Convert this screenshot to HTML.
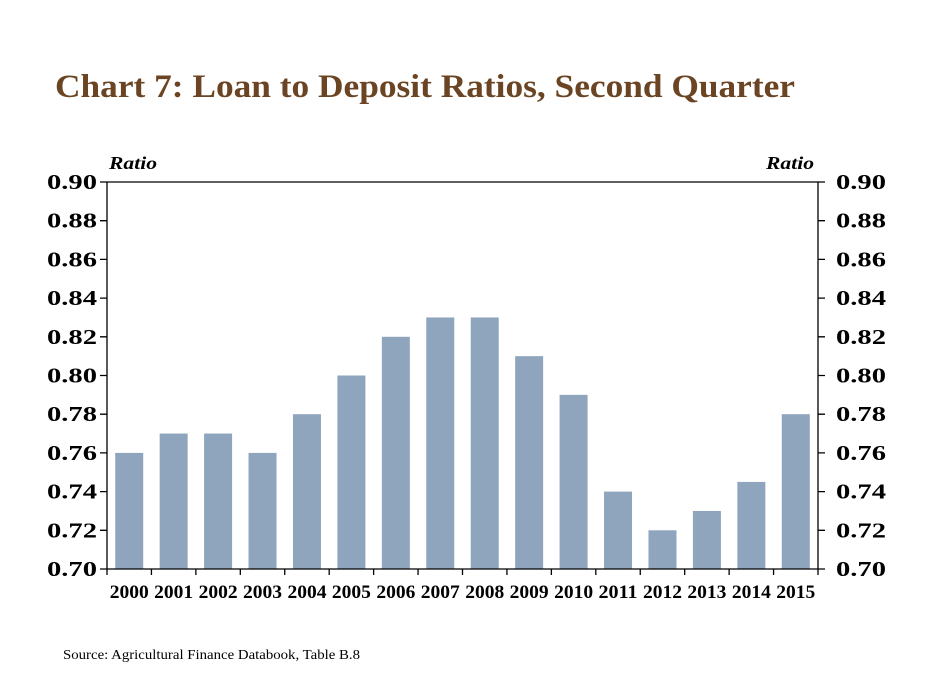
<!DOCTYPE html>
<html><head><meta charset="utf-8"><style>
body{margin:0;background:#fff;}
svg{display:block;font-family:"Liberation Serif",serif;}
</style></head><body>
<svg width="925" height="693" viewBox="0 0 925 693">
<text x="55" y="97" font-size="33" font-weight="bold" fill="#6B4523" textLength="740" lengthAdjust="spacingAndGlyphs">Chart 7: Loan to Deposit Ratios, Second Quarter</text>
<text x="109" y="169" font-size="18" font-weight="bold" font-style="italic" textLength="48" lengthAdjust="spacingAndGlyphs">Ratio</text>
<text x="766" y="169" font-size="18" font-weight="bold" font-style="italic" textLength="48" lengthAdjust="spacingAndGlyphs">Ratio</text>
<g id="bars" fill="#8FA5BE"></g>
<g stroke="#000" stroke-width="1.3" fill="none" id="ax"></g>
<g font-size="21" font-weight="bold" id="lbl"></g>
<text x="63" y="659" font-size="14" textLength="297" lengthAdjust="spacingAndGlyphs">Source: Agricultural Finance Databook, Table B.8</text>
<script>
var v=[0.76,0.77,0.77,0.76,0.78,0.80,0.82,0.83,0.83,0.81,0.79,0.74,0.72,0.73,0.745,0.78];
var L=107,R=818,T=182,B=569,sl=(R-L)/16,ns="http://www.w3.org/2000/svg";
function y(x){return B-(x-0.70)/0.2*(B-T);}
function el(p,t,a,tx){var e=document.createElementNS(ns,t);for(var k in a)e.setAttribute(k,a[k]);if(tx)e.textContent=tx;document.getElementById(p).appendChild(e);}
v.forEach(function(d,i){var c=L+sl*(i+0.5);el("bars","rect",{x:c-14,y:y(d),width:28,height:B-y(d)});
el("lbl","text",{x:c-19.5,y:598,textLength:39,lengthAdjust:"spacingAndGlyphs","font-size":19},String(2000+i));});
el("ax","path",{d:"M"+L+" "+T+"V"+B+"H"+R+"V"+T+"H"+L});
for(var i=0;i<=16;i++){var x=L+sl*i;el("ax","path",{d:"M"+x+" "+B+"v6"});}
for(var k=0;k<=10;k++){var yy=T+(B-T)*k/10;el("ax","path",{d:"M"+(L-7)+" "+yy+"h7M"+R+" "+yy+"h7"});
var t=(0.90-k*0.02).toFixed(2);el("lbl","text",{x:L-60,y:yy+7,textLength:50,lengthAdjust:"spacingAndGlyphs"},t);el("lbl","text",{x:R+18,y:yy+7,textLength:50,lengthAdjust:"spacingAndGlyphs"},t);}
</script>
</svg></body></html>
